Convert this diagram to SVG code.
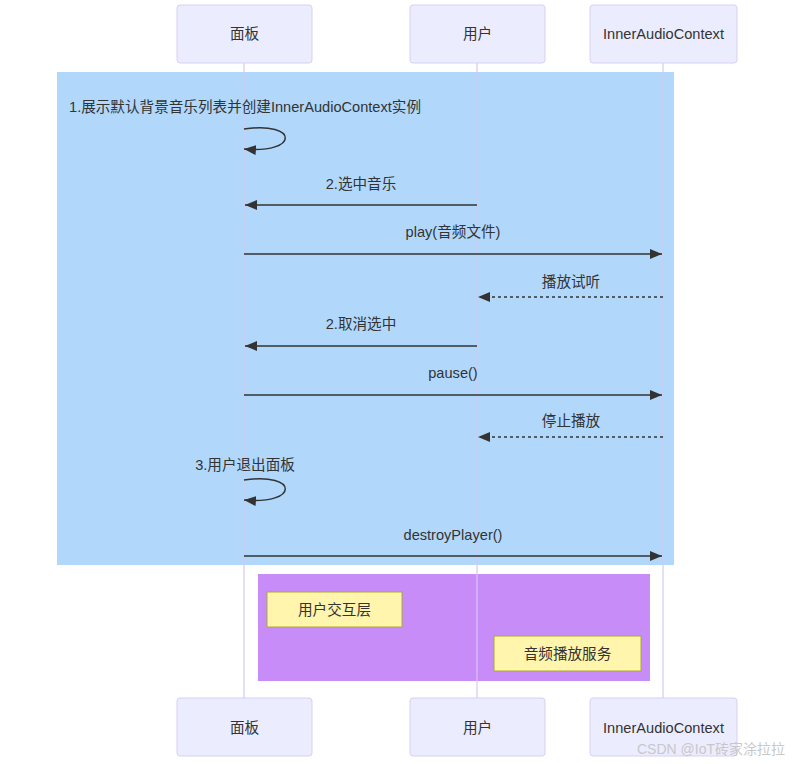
<svg xmlns="http://www.w3.org/2000/svg" width="803" height="764" viewBox="0 0 803 764">
<style>
.actor rect{fill:#ECECFF;stroke:#d8cff3;stroke-width:1}
text{font-family:"Liberation Sans","Noto Sans CJK SC",sans-serif;font-size:14.6px;fill:#333}
.c{text-anchor:middle}
.life{stroke:#d6c8f0;stroke-width:1.2}
.msg{stroke:#333;stroke-width:1.5;fill:none}
.dash{stroke-dasharray:3,3}
.note rect{fill:#fff5ad;stroke:#aaaa33;stroke-width:1}
</style>
<defs>
<marker id="ah" viewBox="0 0 12 10" refX="12" refY="5" markerWidth="12" markerHeight="10" markerUnits="userSpaceOnUse" orient="auto">
<path d="M0,0 L12,5 L0,10 z" fill="#333"/>
</marker>
</defs>
<rect width="803" height="764" fill="#fff"/>
<rect x="57" y="72" width="617" height="493" fill="#b1d8fb"/>
<rect x="258" y="574" width="392" height="107" fill="#c78cf8"/>
<g id="lifelines">
<line class="life" x1="244" y1="63" x2="244" y2="698"/>
<line class="life" x1="477" y1="63" x2="477" y2="698"/>
<line class="life" x1="663" y1="63" x2="663" y2="698"/>
</g>
<g id="actor-panel-top" class="actor"><rect x="177" y="5" width="135" height="58" rx="3"/><text class="c" x="244.5" y="39">面板</text></g>
<g id="actor-user-top" class="actor"><rect x="410" y="5" width="135" height="58" rx="3"/><text class="c" x="477.5" y="39">用户</text></g>
<g id="actor-iac-top" class="actor"><rect x="590" y="5" width="147" height="58" rx="3"/><text class="c" x="663.5" y="39">InnerAudioContext</text></g>
<g id="actor-panel-bottom" class="actor"><rect x="177" y="698" width="135" height="58" rx="3"/><text class="c" x="244.5" y="733">面板</text></g>
<g id="actor-user-bottom" class="actor"><rect x="410" y="698" width="135" height="58" rx="3"/><text class="c" x="477.5" y="733">用户</text></g>
<g id="actor-iac-bottom" class="actor"><rect x="590" y="698" width="147" height="58" rx="3"/><text class="c" x="663.5" y="733">InnerAudioContext</text></g>
<g id="connectors">
<text class="c" x="245" y="112">1.展示默认背景音乐列表并创建InnerAudioContext实例</text>
<path class="msg" d="M244,129 C299,121 299,154 244,149" marker-end="url(#ah)"/>
<text class="c" x="361" y="189">2.选中音乐</text>
<line class="msg" x1="477" y1="205" x2="245" y2="205" marker-end="url(#ah)"/>
<text class="c" x="453" y="237">play(音频文件)</text>
<line class="msg" x1="244" y1="254" x2="662" y2="254" marker-end="url(#ah)"/>
<text class="c" x="571" y="287">播放试听</text>
<line class="msg dash" x1="663" y1="297" x2="478" y2="297" marker-end="url(#ah)"/>
<text class="c" x="361" y="329">2.取消选中</text>
<line class="msg" x1="477" y1="346" x2="245" y2="346" marker-end="url(#ah)"/>
<text class="c" x="453" y="378">pause()</text>
<line class="msg" x1="244" y1="395" x2="662" y2="395" marker-end="url(#ah)"/>
<text class="c" x="571" y="426">停止播放</text>
<line class="msg dash" x1="663" y1="437" x2="478" y2="437" marker-end="url(#ah)"/>
<text class="c" x="245" y="470">3.用户退出面板</text>
<path class="msg" d="M244,480 C299,472 299,505 244,500" marker-end="url(#ah)"/>
<text class="c" x="453" y="540">destroyPlayer()</text>
<line class="msg" x1="244" y1="556" x2="662" y2="556" marker-end="url(#ah)"/>
</g>
<g id="note-ui" class="note"><rect x="267" y="592" width="135" height="35"/><text class="c" x="334.5" y="615">用户交互层</text></g>
<g id="note-audio" class="note"><rect x="494" y="636" width="147" height="35"/><text class="c" x="567.5" y="659">音频播放服务</text></g>
<text x="637" y="754" style="font-size:14px;fill:#c8c8c8">CSDN @IoT砖家涂拉拉</text>
</svg>
